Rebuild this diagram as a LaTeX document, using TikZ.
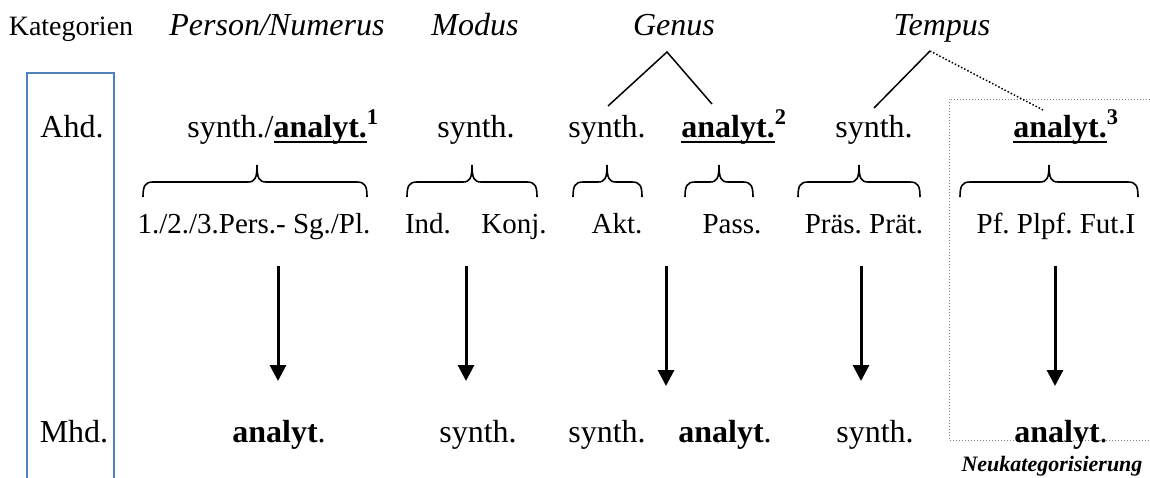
\documentclass[tikz,border=0pt]{standalone}
\usepackage{fontspec}
\setmainfont{Liberation Serif}
\usetikzlibrary{arrows.meta}
\definecolor{frameblue}{HTML}{4F81BD}
\frenchspacing
% bold text with a heavy underline a little below the baseline
\newcommand\ulbf[1]{\setbox0\hbox{\textbf{#1}}\rlap{\rule[-3pt]{\wd0}{1.2pt}}\box0}

\begin{document}
\begin{tikzpicture}[x=0.5pt,y=-0.5pt,
  lab/.style={inner sep=0pt,anchor=base,font=\fontsize{16}{19}\selectfont},
  head/.style={lab,font=\fontsize{16}{19}\selectfont\itshape},
  sub/.style={lab,font=\fontsize{14.5}{17}\selectfont},
  brc/.style={line width=0.8pt},
  down/.style={line width=1.5pt,-{Triangle[width=8pt,length=8pt]}},
  branch/.style={line width=0.75pt}]
\useasboundingbox (0,0) rectangle (1150,477);

% period column frame (open at the bottom)
\draw[frameblue,line width=0.6pt] (27,478) -- (27,73) -- (114,73) -- (114,478);
% frame of the new category
\draw[gray,line width=0.5pt,densely dotted] (1152,440) -- (949,440) -- (949,99) -- (1152,99);

% header row
\node[lab,font=\fontsize{14}{17}\selectfont] (kat) at (71,35) {Kategorien};
\node[head] (pn)   at (277,35) {Person/Numerus};
\node[head] (mod)  at (475,35) {Modus};
\node[head] (gen)  at (674,35) {Genus};
\node[head] (temp) at (942,35) {Tempus};

% Old High German row
\node[lab] (ahd) at (72,137) {Ahd.};
\node[lab,anchor=base west] (a1) at (187,137) {synth./\ulbf{analyt.}\textsuperscript{\textbf{1}}};
\node[lab] (a2) at (476,137) {synth.};
\node[lab] (a3) at (607,137) {synth.};
\node[lab,anchor=base west] (a4) at (681,137) {\ulbf{analyt.}\textsuperscript{\textbf{2}}};
\node[lab] (a5) at (874,137) {synth.};
\node[lab,anchor=base west] (a6) at (1013,137) {\ulbf{analyt.}\textsuperscript{\textbf{3}}};

% branching of Genus and Tempus
\coordinate (gapex) at (667,52);
\coordinate (g1) at (608,106);
\coordinate (g2) at (712,104);
\coordinate (tapex) at (930,51);
\coordinate (t1) at (874,108);
\coordinate (t2) at (1043,110);
\draw[branch] (g1) -- (gapex) -- (g2);
\draw[branch] (t1) -- (tapex);
\draw[branch,densely dotted] (tapex) -- (t2);

% braces over the subcategories: left end / tip / right end
\foreach \l/\m/\r in {143/257/367, 407/472/537, 573/607/642, 685/719/753, 798/859/920, 960/1049/1138}{
  \draw[brc] (\l,197) .. controls (\l,186) and (\l+2,182) .. (\l+10,182)
    -- (\m-9,182) .. controls (\m-2,182) and (\m,178) .. (\m,165)
    .. controls (\m,178) and (\m+2,182) .. (\m+9,182)
    -- (\r-10,182) .. controls (\r-2,182) and (\r,186) .. (\r,197);
}

% subcategories
\node[sub] (s1) at (254,233) {1./2./3.Pers.- Sg./Pl.};
\node[sub] (s2) at (428,233) {Ind.};
\node[sub] (s3) at (514,233) {Konj.};
\node[sub] (s4) at (617,233) {Akt.};
\node[sub] (s5) at (732,233) {Pass.};
\node[sub] (s6) at (864,233) {Präs. Prät.};
\node[sub] (s7) at (1056,233) {Pf. Plpf. Fut.I};

% development arrows
\foreach \n/\x/\y in {1/278/381,2/466/381,3/666/386,4/861/381,5/1055/386}{
  \coordinate (u\n) at (\x,266);
  \coordinate (d\n) at (\x,\y);
  \draw[down] (u\n) -- (d\n);
}

% Middle High German row
\node[lab] (mhd) at (74,442) {Mhd.};
\node[lab] (m1) at (279,442) {\textbf{analyt}.};
\node[lab] (m2) at (478,442) {synth.};
\node[lab] (m3) at (607,442) {synth.};
\node[lab] (m4) at (725,442) {\textbf{analyt}.};
\node[lab] (m5) at (875,442) {synth.};
\node[lab] (m6) at (1061,442) {\textbf{analyt}.};
\node[lab,font=\fontsize{11}{13}\selectfont\bfseries\itshape] (neu) at (1052,471) {Neukategorisierung};
\end{tikzpicture}
\end{document}
